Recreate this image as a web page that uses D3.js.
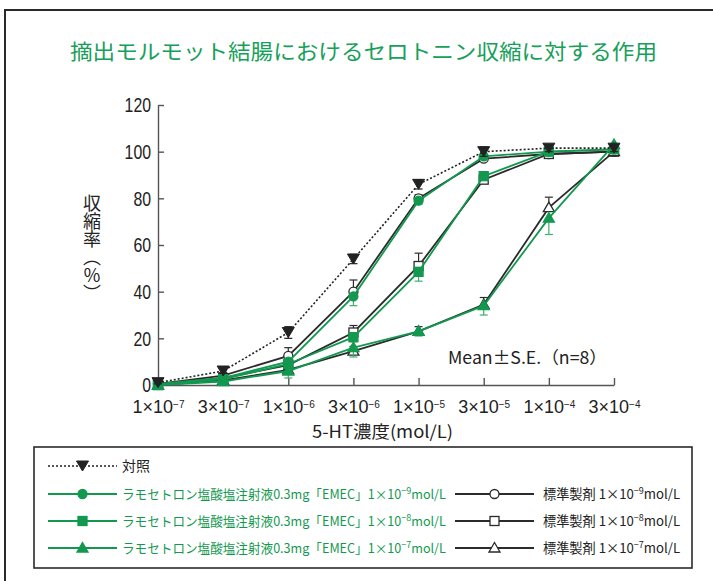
<!DOCTYPE html>
<html lang="ja">
<head>
<meta charset="UTF-8">
<title>セロトニン収縮に対する作用</title>
<script src="https://d3js.org/d3.v7.min.js"></script>
<style>
  body { margin: 0; background: #fff; }
  svg { display: block; font-family: "Noto Sans CJK JP", sans-serif; }
  .num { font-family: "Liberation Sans", Arial, sans-serif; }
</style>
</head>
<body>
<svg id="chart" width="713" height="581"></svg>
<script>
// concentrations of 5-HT (x categories)
const concCoef = ["1", "3", "1", "3", "1", "3", "1", "3"];
const concExp = ["−7", "−7", "−6", "−6", "−5", "−5", "−4", "−4"];
const yTicks = [0, 20, 40, 60, 80, 100, 120];

// contraction rate (%), mean and S.E.
const control = [1, 6, 22.5, 54, 86, 100, 101.5, 101.5];
const controlSE = [0.5, 1, 2.5, 2, 2, 2, 1.5, 1.5];
const std9 = [0.5, 4, 12.5, 40, 80, 97, 99, 100];
const std9SE = [0.5, 1, 3.5, 5, 1.5, 1.5, 1, 1];
const ramo9 = [0.5, 3, 10, 38, 79, 98, 100, 101];
const ramo9SE = [0.5, 1, 2, 4, 1.5, 1.5, 1, 1];
const std8 = [0, 3, 8.5, 22.5, 51, 88, 99, 100];
const std8SE = [0.5, 1, 1.5, 3, 5.5, 2, 1, 1];
const ramo8 = [0, 2.5, 9, 20.5, 48.5, 89.5, 100, 101];
const ramo8SE = [0.5, 1, 1.5, 2, 4, 1.5, 1, 1];
const std7 = [0, 2, 6.5, 14.5, 23, 34.5, 76, 100];
const std7SE = [0.5, 1, 1, 2, 2, 3, 4.5, 1];
const ramo7 = [0, 1.5, 6, 16, 23, 34, 71.5, 103];
const ramo7SE = [0.5, 1, 3, 4, 2, 4, 7, 2];

const green = "#12994f";
const greenLight = "#40ad6c";
const dark = "#2b2b2b";

const svg = d3.select("#chart");

// outer frame
svg.append("rect").attr("x", 5).attr("y", 10).attr("width", 740).attr("height", 620)
  .attr("fill", "none").attr("stroke", "#2a2a2a").attr("stroke-width", 2);

// title
svg.append("text").attr("x", 70).attr("y", 59)
  .attr("font-size", 21).attr("fill", "#17a05a")
  .attr("textLength", 587).attr("lengthAdjust", "spacingAndGlyphs")
  .text("摘出モルモット結腸におけるセロトニン収縮に対する作用");

const idx = d3.range(concCoef.length);
const x = d3.scalePoint().domain(idx).range([158, 614]);
const y = d3.scaleLinear().domain([0, 120]).range([385, 105]);

// axes
const xAxis = svg.append("g").attr("transform", "translate(0,385)")
  .call(d3.axisBottom(x).tickSizeInner(-7).tickSizeOuter(0).tickPadding(15));
xAxis.selectAll(".tick text").attr("class", "num").attr("font-size", 18).attr("fill", "#222")
  .each(function(i) {
    const t = d3.select(this).text("");
    t.append("tspan").text(concCoef[i] + "×10");
    t.append("tspan").attr("dy", "-0.45em").attr("font-size", 10).text(concExp[i]);
  });

const yAxis = svg.append("g").attr("transform", "translate(158,0)")
  .call(d3.axisLeft(y).tickValues(yTicks).tickSizeInner(-6).tickSizeOuter(0).tickPadding(7));
yAxis.selectAll(".tick text").attr("class", "num").attr("font-size", 21).attr("fill", "#222")
  .attr("textLength", d => String(d).length * 8.8).attr("lengthAdjust", "spacingAndGlyphs");
svg.selectAll(".domain, .tick line").attr("stroke", "#555").attr("stroke-width", 1.4);

// axis titles
svg.append("text").attr("x", 312).attr("y", 438)
  .attr("font-size", 17).attr("fill", "#222")
  .attr("textLength", 141).attr("lengthAdjust", "spacingAndGlyphs")
  .text("5-HT濃度(mol/L)");
svg.append("text").attr("x", 92).attr("y", 194)
  .style("writing-mode", "vertical-rl").attr("font-size", 18).attr("fill", "#222")
  .text("収縮率（％）");

svg.append("text").attr("x", 448).attr("y", 364).attr("font-size", 17).attr("fill", "#222")
  .attr("textLength", 159).attr("lengthAdjust", "spacingAndGlyphs")
  .text("Mean±S.E.（n=8）");

// markers
function marker(g, shape, fill, stroke) {
  if (shape === "circle") {
    g.append("circle").attr("r", 4.5).attr("fill", fill).attr("stroke", stroke).attr("stroke-width", 1.3);
  } else if (shape === "square") {
    g.append("rect").attr("x", -4.5).attr("y", -4.5).attr("width", 9).attr("height", 9)
      .attr("fill", fill).attr("stroke", stroke).attr("stroke-width", 1.3);
  } else if (shape === "triangle") {
    g.append("path").attr("d", "M0,-5.5L5.5,4L-5.5,4Z")
      .attr("fill", fill).attr("stroke", stroke).attr("stroke-width", 1.3);
  } else if (shape === "down") {
    g.append("path").attr("d", "M-6,-5L6,-5L0,5Z").attr("fill", fill).attr("stroke", stroke).attr("stroke-width", 1);
  }
}

const series = [
  { v: std9, se: std9SE, shape: "circle", fill: "#fff", color: dark, bar: dark, dir: -1 },
  { v: std8, se: std8SE, shape: "square", fill: "#fff", color: dark, bar: dark, dir: -1 },
  { v: std7, se: std7SE, shape: "triangle", fill: "#fff", color: dark, bar: dark, dir: -1 },
  { v: ramo9, se: ramo9SE, shape: "circle", fill: green, color: green, bar: greenLight, dir: 1 },
  { v: ramo8, se: ramo8SE, shape: "square", fill: green, color: green, bar: greenLight, dir: 1 },
  { v: ramo7, se: ramo7SE, shape: "triangle", fill: green, color: green, bar: greenLight, dir: 1 },
  { v: control, se: controlSE, shape: "down", fill: "#222", color: "#222", bar: "#222", dir: 0, dash: "2,2" }
];

const line = d3.line().x((d, i) => x(i)).y(d => y(d));

series.forEach(s => {
  const g = svg.append("g");
  // error bars
  s.v.forEach((v, i) => {
    const ends = s.dir === 0 ? [v - s.se[i], v + s.se[i]] : [v, v - s.dir * s.se[i]];
    g.append("line").attr("x1", x(i)).attr("x2", x(i))
      .attr("y1", y(ends[0])).attr("y2", y(ends[1])).attr("stroke", s.bar).attr("stroke-width", 1.2);
    const caps = s.dir === 0 ? ends : [ends[1]];
    caps.forEach(c => g.append("line").attr("x1", x(i) - 4).attr("x2", x(i) + 4)
      .attr("y1", y(c)).attr("y2", y(c)).attr("stroke", s.bar).attr("stroke-width", 1.2));
  });
  g.append("path").datum(s.v).attr("d", line).attr("fill", "none")
    .attr("stroke", s.color).attr("stroke-width", s.dash ? 1.6 : 1.8)
    .attr("stroke-dasharray", s.dash || null);
  s.v.forEach((v, i) => {
    marker(g.append("g").attr("transform", `translate(${x(i)},${y(v)})`), s.shape, s.fill, s.color);
  });
});

// legend
svg.append("rect").attr("x", 34).attr("y", 447).attr("width", 658).attr("height", 121)
  .attr("fill", "none").attr("stroke", "#2a2a2a").attr("stroke-width", 1.6);

function legendItem(x0, x1, yy, shape, fill, color, dash) {
  svg.append("line").attr("x1", x0).attr("x2", x1).attr("y1", yy).attr("y2", yy)
    .attr("stroke", color).attr("stroke-width", dash ? 1.5 : 1.8).attr("stroke-dasharray", dash || null);
  marker(svg.append("g").attr("transform", `translate(${(x0 + x1) / 2},${yy})`), shape, fill, color);
}
function legendText(xx, yy, txt, exp, color, fs) {
  const t = svg.append("text").attr("x", xx).attr("y", yy + 5).attr("font-size", fs).attr("fill", color);
  if (exp) {
    t.append("tspan").text(txt + "1×10");
    t.append("tspan").attr("dy", -5).attr("font-size", 9).text(exp);
    t.append("tspan").attr("dy", 5).text("mol/L");
  } else {
    t.text(txt);
  }
}

const legendRows = [466, 494, 521, 548];
const legendExp = ["−9", "−8", "−7"];
const legendShapes = ["circle", "square", "triangle"];

legendItem(48, 117, legendRows[0], "down", "#222", "#222", "2,2");
legendText(122, legendRows[0], "対照", null, "#222", 14);
legendShapes.forEach((sh, k) => {
  const yy = legendRows[k + 1];
  legendItem(48, 117, yy, sh, green, green);
  legendText(122, yy, "ラモセトロン塩酸塩注射液0.3mg「EMEC」", legendExp[k], green, 12.6);
  legendItem(455, 534, yy, sh, "#fff", dark);
  legendText(543, yy, "標準製剤 ", legendExp[k], "#222", 13.2);
});
</script>
</body>
</html>
